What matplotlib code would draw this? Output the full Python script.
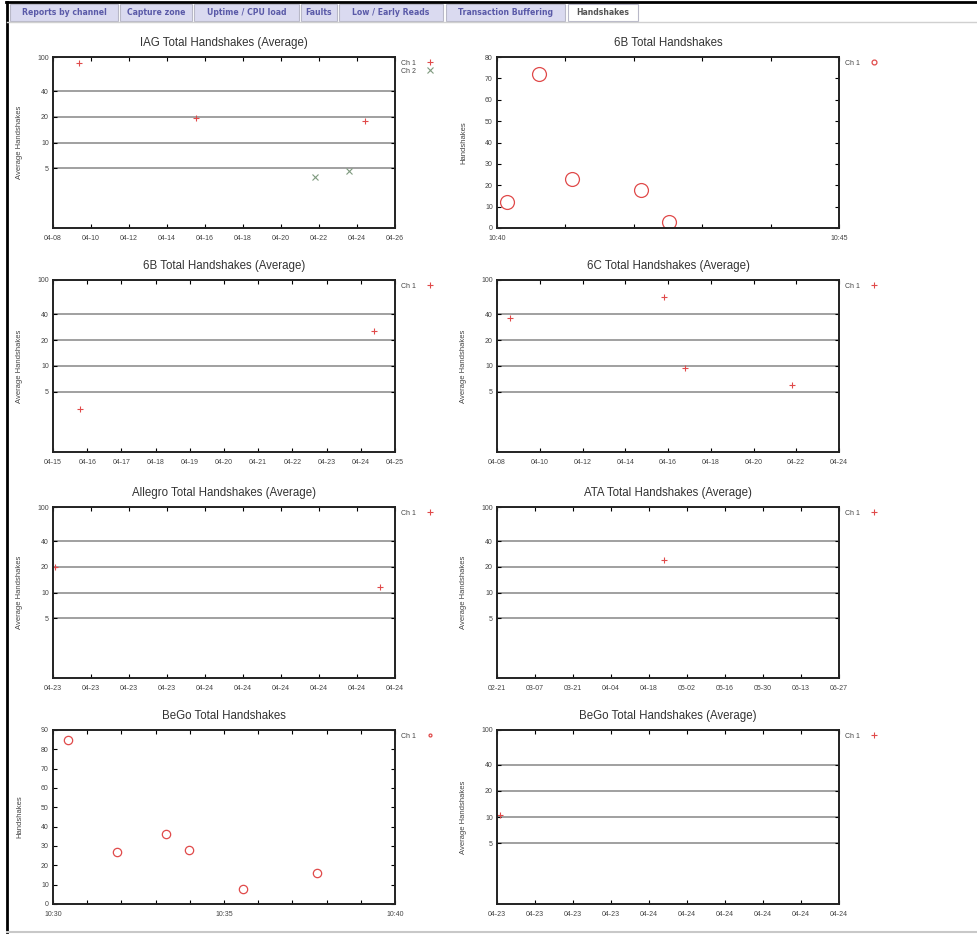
import matplotlib
matplotlib.use('Agg')
import matplotlib.pyplot as plt
import matplotlib.dates as mdates
from matplotlib.patches import Rectangle
from matplotlib.lines import Line2D
from matplotlib.ticker import NullLocator, FixedLocator
import pandas as pd

# tab strip across the top of the page
tab_labels = ['Reports by channel', 'Capture zone', 'Uptime / CPU load', 'Faults',
              'Low / Early Reads', 'Transaction Buffering', 'Handshakes']

# IAG Total Handshakes (Average)
iag_ch1_t = ['2009-04-09 09:00', '2009-04-15 12:00', '2009-04-24 10:00']
iag_ch1_v = [85, 19.3, 17.8]
iag_ch2_t = ['2009-04-21 19:00', '2009-04-23 14:00']
iag_ch2_v = [4.0, 4.6]

# 6B Total Handshakes
b6_t = ['2009-04-24 10:40:09', '2009-04-24 10:40:37', '2009-04-24 10:41:06',
        '2009-04-24 10:42:06', '2009-04-24 10:42:31']
b6_v = [12, 72, 23, 18, 3]

# 6B Total Handshakes (Average)
b6avg_t = ['2009-04-15 19:00', '2009-04-24 09:00']
b6avg_v = [3.2, 25.5]

# 6C Total Handshakes (Average)
c6avg_t = ['2009-04-08 15:00', '2009-04-15 19:00', '2009-04-16 19:00', '2009-04-21 19:00']
c6avg_v = [36, 63, 9.5, 6.0]

# Allegro Total Handshakes (Average)
allegro_t = ['2009-04-23 16:06', '2009-04-24 09:12']
allegro_v = [19.7, 11.7]

# ATA Total Handshakes (Average)
ata_t = ['2009-04-23 12:00']
ata_v = [24]

# BeGo Total Handshakes
bego_t = ['2009-04-24 10:30:27', '2009-04-24 10:31:52', '2009-04-24 10:33:18',
          '2009-04-24 10:33:58', '2009-04-24 10:35:34', '2009-04-24 10:37:43']
bego_v = [85, 27, 36, 28, 8, 16]

# BeGo Total Handshakes (Average)
begoavg_t = ['2009-04-23 16:10']
begoavg_v = [10.5]

avg_yticks = [5, 10, 20, 40, 100]

W, H = 978, 939
RED = '#e04a4a'
CH2 = '#7f9a7f'
TXT = '#444444'
FONT = 'Liberation Sans'

fig = plt.figure(figsize=(W / 100, H / 100), dpi=100)
fig.patch.set_facecolor('white')


def box(x0, y0, x1, y1):
    return [x0 / W, 1 - y1 / H, (x1 - x0) / W, (y1 - y0) / H]


def fig_line(xs, ys, **kw):
    fig.add_artist(Line2D([x / W for x in xs], [1 - y / H for y in ys],
                          transform=fig.transFigure, **kw))


def fig_rect(x0, y0, x1, y1, **kw):
    fig.add_artist(Rectangle((x0 / W, 1 - y1 / H), (x1 - x0) / W, (y1 - y0) / H,
                             transform=fig.transFigure, **kw))


# page frame
fig_line([7, 7], [2, 932], color='black', lw=2)
fig_line([6, W], [2, 2], color='black', lw=2)
fig_line([7, W], [932, 932], color='#c8c8c8', lw=1.5)
fig_line([7, W], [22, 22], color='#d0d0d0', lw=1)

# tabs
tab_x = [(10, 118), (120, 192), (194, 299), (301, 337), (339, 443), (446, 565), (568, 638)]
for (x0, x1), lab in zip(tab_x, tab_labels):
    active = lab == 'Handshakes'
    fig_rect(x0, 4, x1, 21, facecolor='white' if active else '#dadaf0',
             edgecolor='#b8b8c8', lw=0.8)
    fig.text((x0 + x1) / 2 / W, 1 - 12.5 / H, lab, ha='center', va='center',
             fontsize=5.6, fontweight='bold', family='DejaVu Sans',
             color='#555555' if active else '#5a5aa8')


def style(ax, title, ylabel):
    ax.set_title(title, fontsize=8.3, color='#333333', pad=8, family=FONT)
    ax.set_ylabel(ylabel, fontsize=5.5, color=TXT, family=FONT)
    ax.yaxis.set_label_coords(-0.088, 0.5)
    for s in ax.spines.values():
        s.set_linewidth(1.4)
        s.set_color('#222222')
    ax.tick_params(which='both', direction='in', top=True, right=True, length=3,
                   width=0.8, labelsize=5, labelcolor=TXT)
    ax.tick_params(axis='x', which='both', pad=5)
    ax.tick_params(axis='y', which='both', pad=3)
    for t in ax.get_xticklabels() + ax.get_yticklabels():
        t.set_family(FONT)


def legend(ax, scale=1.0):
    lg = ax.legend(loc='upper left', bbox_to_anchor=(1.0, 1.02), frameon=False,
                   markerfirst=False, handlelength=2.7, handletextpad=0.6,
                   markerscale=scale, labelspacing=0.1, prop={'family': FONT, 'size': 5})
    for t in lg.get_texts():
        t.set_color(TXT)


def avg_panel(rect, title, series, x0, x1, freq):
    ax = fig.add_axes(box(*rect))
    for t, v, lab, col, mk in series:
        ax.plot(pd.to_datetime(t), v, linestyle='none', marker=mk, color=col,
                markersize=4.5, mew=0.8, label=lab)
    ax.set_yscale('log')
    ax.set_ylim(1, 100)
    ax.yaxis.set_major_locator(FixedLocator(avg_yticks))
    ax.yaxis.set_minor_locator(NullLocator())
    ax.set_yticklabels([str(v) for v in avg_yticks])
    ax.yaxis.grid(True, color='#a0a0a0', lw=1.4)
    ticks = pd.date_range(x0, x1, freq=freq)
    ax.set_xlim(ticks[0], ticks[-1])
    ax.set_xticks(ticks)
    ax.xaxis.set_major_formatter(mdates.DateFormatter('%m-%d'))
    style(ax, title, 'Average Handshakes')
    legend(ax)
    return ax


def raw_panel(rect, title, t, v, ymax, x0, x1, msize):
    ax = fig.add_axes(box(*rect))
    ax.plot(pd.to_datetime(t), v, linestyle='none', marker='o', mfc='none',
            color=RED, markersize=msize, mew=0.9, label='Ch 1')
    ax.set_ylim(0, ymax)
    ax.set_yticks(range(0, ymax + 1, 10))
    ax.set_xlim(pd.Timestamp(x0), pd.Timestamp(x1))
    ax.xaxis.set_major_locator(mdates.MinuteLocator(byminute=range(0, 60, 5)))
    ax.xaxis.set_minor_locator(mdates.MinuteLocator())
    ax.xaxis.set_major_formatter(mdates.DateFormatter('%H:%M'))
    style(ax, title, 'Handshakes')
    legend(ax, scale=0.35)
    return ax


L = (53, 395)
R = (497, 839)
rows = [(57, 228), (280, 452), (507, 678), (730, 904)]

avg_panel((L[0], rows[0][0], L[1], rows[0][1]), 'IAG Total Handshakes (Average)',
          [(iag_ch1_t, iag_ch1_v, 'Ch 1', RED, '+'),
           (iag_ch2_t, iag_ch2_v, 'Ch 2', CH2, 'x')],
          '2009-04-08', '2009-04-26', '2D')

raw_panel((R[0], rows[0][0], R[1], rows[0][1]), '6B Total Handshakes',
          b6_t, b6_v, 80, '2009-04-24 10:40', '2009-04-24 10:45', 10)

avg_panel((L[0], rows[1][0], L[1], rows[1][1]), '6B Total Handshakes (Average)',
          [(b6avg_t, b6avg_v, 'Ch 1', RED, '+')],
          '2009-04-15', '2009-04-25', '1D')

avg_panel((R[0], rows[1][0], R[1], rows[1][1]), '6C Total Handshakes (Average)',
          [(c6avg_t, c6avg_v, 'Ch 1', RED, '+')],
          '2009-04-08', '2009-04-24', '2D')

avg_panel((L[0], rows[2][0], L[1], rows[2][1]), 'Allegro Total Handshakes (Average)',
          [(allegro_t, allegro_v, 'Ch 1', RED, '+')],
          '2009-04-23 16:00', '2009-04-24 10:00', '2h')

avg_panel((R[0], rows[2][0], R[1], rows[2][1]), 'ATA Total Handshakes (Average)',
          [(ata_t, ata_v, 'Ch 1', RED, '+')],
          '2009-02-21', '2009-06-27', '14D')

raw_panel((L[0], rows[3][0], L[1], rows[3][1]), 'BeGo Total Handshakes',
          bego_t, bego_v, 90, '2009-04-24 10:30', '2009-04-24 10:40', 6)

avg_panel((R[0], rows[3][0], R[1], rows[3][1]), 'BeGo Total Handshakes (Average)',
          [(begoavg_t, begoavg_v, 'Ch 1', RED, '+')],
          '2009-04-23 16:00', '2009-04-24 10:00', '2h')

fig.savefig('out.png', dpi=100, facecolor='white')
